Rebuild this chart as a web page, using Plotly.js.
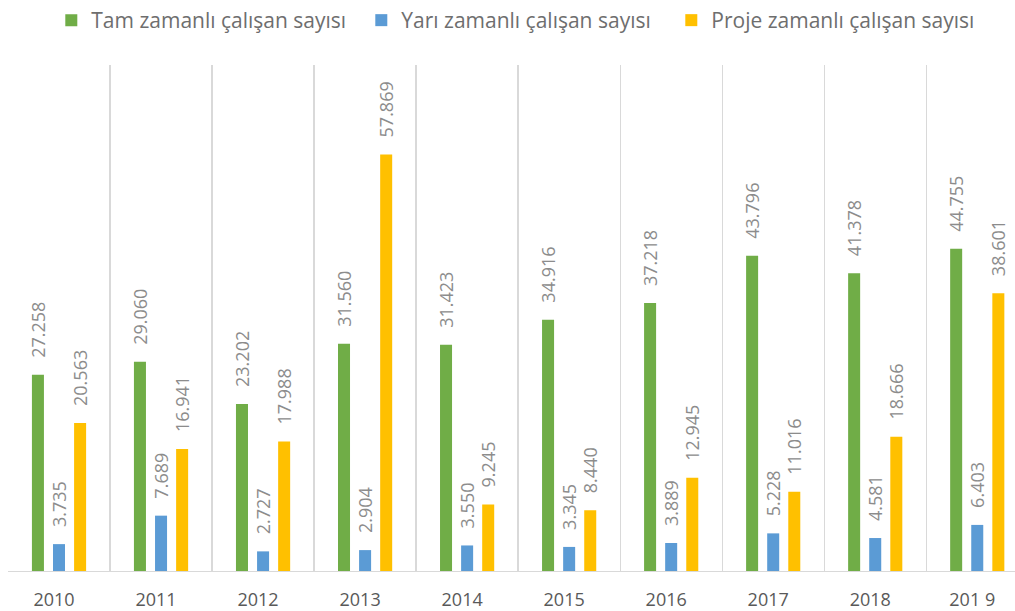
<!DOCTYPE html>
<html>
<head>
<meta charset="utf-8">
<script src="https://cdn.plot.ly/plotly-3.0.1.min.js"></script>
<style>html,body{margin:0;padding:0;background:#fff;}</style>
</head>
<body>
<div id="chart" style="width:1015px;height:611px;"></div>
<script>
const years = ["2010","2011","2012","2013","2014","2015","2016","2017","2018","201 9"];
const tamZamanli = [27258, 29060, 23202, 31560, 31423, 34916, 37218, 43796, 41378, 44755];
const yariZamanli = [3735, 7689, 2727, 2904, 3550, 3345, 3889, 5228, 4581, 6403];
const projeZamanli = [20563, 16941, 17988, 57869, 9245, 8440, 12945, 11016, 18666, 38601];
const seriesNames = ["Tam zamanlı çalışan sayısı", "Yarı zamanlı çalışan sayısı", "Proje zamanlı çalışan sayısı"];
const colors = ["#70ad47", "#5b9bd5", "#ffc000"];
const seriesData = [tamZamanli, yariZamanli, projeZamanli];

const font = "Open Sans, Noto Sans, sans-serif";
const traces = seriesData.map((vals, i) => ({
  type: "bar",
  name: seriesNames[i],
  x: years,
  y: vals,
  marker: {color: colors[i]},
  texttemplate: "\u00a0\u00a0\u00a0%{y:,}",
  textposition: "outside",
  textangle: -90,
  constraintext: "none",
  cliponaxis: false,
  textfont: {family: font, size: 18, color: "#8c8c8c"},
  hoverinfo: "x+y+name"
}));

const layout = {
  width: 1015, height: 611,
  margin: {l: 8, r: 0, t: 65, b: 40},
  paper_bgcolor: "#ffffff", plot_bgcolor: "#ffffff",
  separators: ",.",
  barmode: "group",
  bargap: 0.38,
  bargroupgap: 0.43,
  showlegend: true,
  legend: {orientation: "h", x: 0.043, y: 1, xanchor: "left", yanchor: "top",
           yref: "container", tracegroupgap: 0, entrywidth: 265,
           font: {family: font, size: 21, color: "#6e6e6e"}, itemwidth: 30},
  xaxis: {type: "category", range: [-0.5, 9.37], tickson: "boundaries", showgrid: true,
          gridcolor: "#d9d9d9", gridwidth: 1.3, showline: true, linecolor: "#d9d9d9", linewidth: 1.3,
          ticks: "", ticklabelstandoff: 12, ticklabelshift: -5,
          tickfont: {family: font, size: 18, color: "#595959"}, fixedrange: true},
  yaxis: {range: [0, 70300], showgrid: false, zeroline: false, showticklabels: false, showline: false, ticks: ""}
};
Plotly.newPlot("chart", traces, layout, {displayModeBar: false, staticPlot: true});
</script>
</body>
</html>
